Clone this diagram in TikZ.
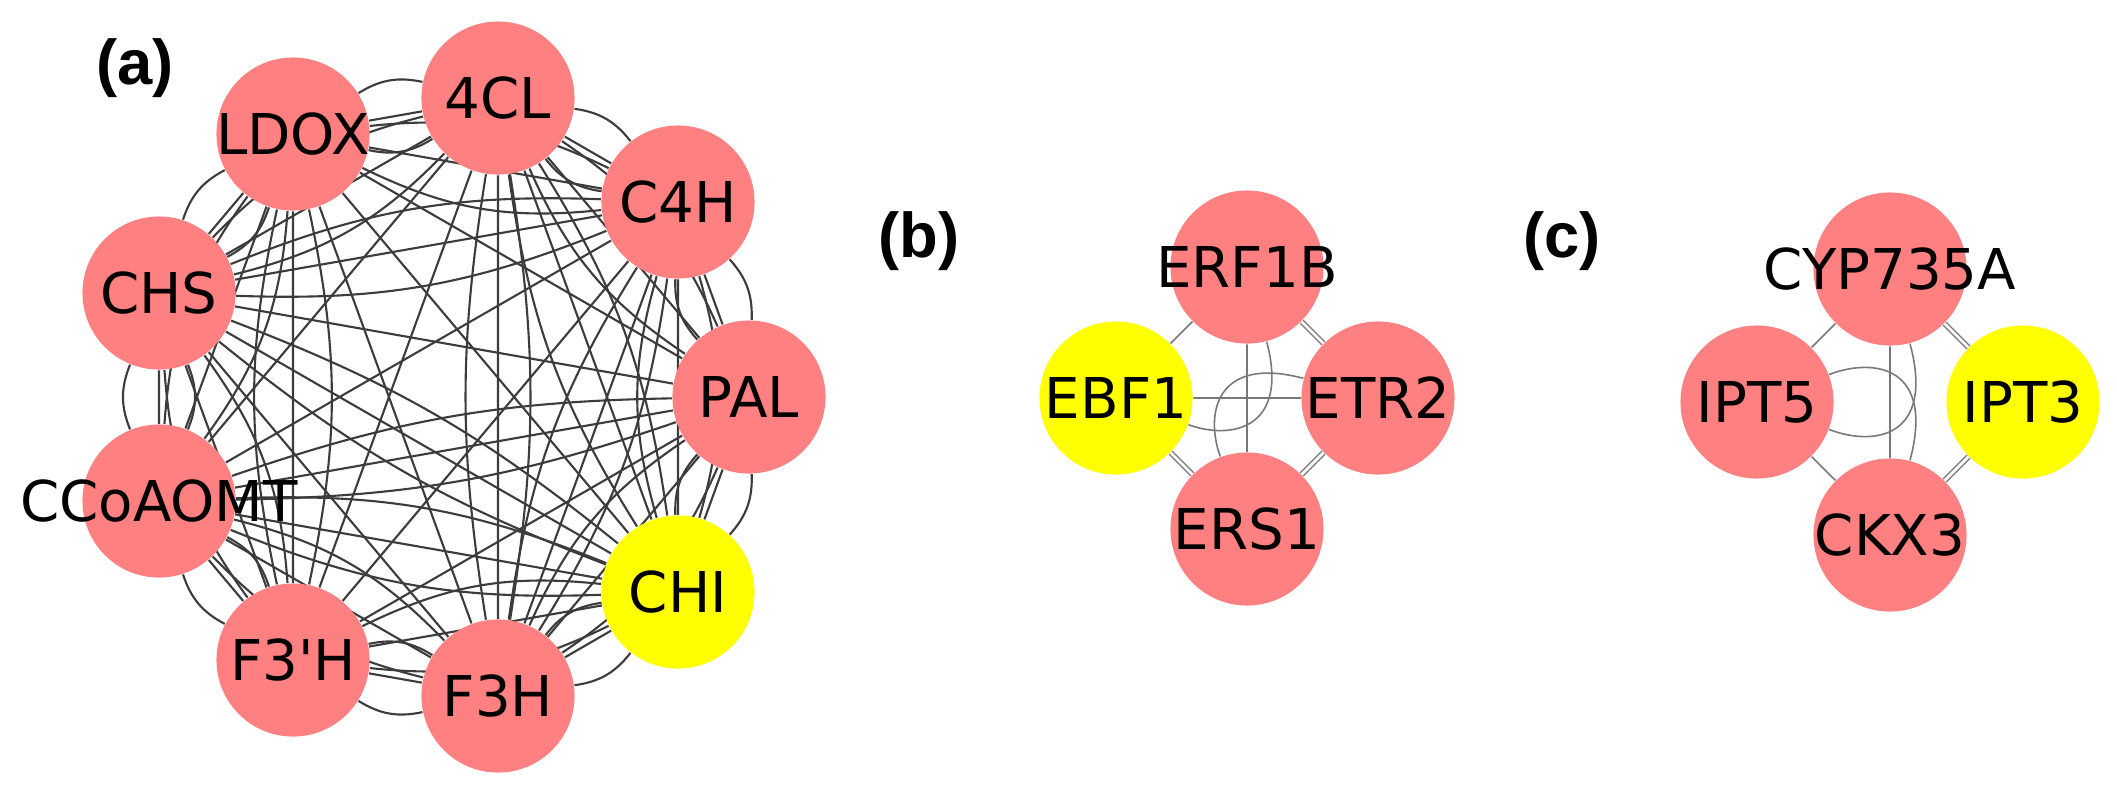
\documentclass[tikz,border=0pt]{standalone}
\usepackage{fontspec}
\newfontfamily\genefont{DejaVu Sans}
\newfontfamily\panelfont{Liberation Sans}
\usetikzlibrary{backgrounds}
\definecolor{genepink}{RGB}{255,128,128}
\definecolor{geneyellow}{RGB}{255,255,0}
\definecolor{linkgray}{RGB}{60,60,60}
\definecolor{linklight}{RGB}{120,120,120}
\tikzset{
  gene/.style={circle,fill=genepink,minimum size=1.53cm,inner sep=0pt,
    font=\genefont\fontsize{16}{19}\selectfont,
    execute at begin node={\hbox to 0pt\bgroup\hss},
    execute at end node={\hss\egroup}},
  hubgene/.style={gene,fill=geneyellow},
  link/.style={draw=linkgray,line width=0.6pt},
  pairlink/.style={draw=linklight,line width=0.45pt},
  duplink/.style={draw=linklight,line width=0.4pt,double=white,double distance=0.8pt},
  panel/.style={font=\panelfont\bfseries\fontsize{18}{20}\selectfont}
}
\begin{document}
\begin{tikzpicture}[x=0.01cm,y=-0.01cm]
\useasboundingbox (0,0) rectangle (2117,799);
% panel (a)
\node[panel] (lbla) at (135,68) {(a)};
\node[gene] (pal) at (749,397) {PAL};
\node[gene] (c4h) at (678,202) {C4H};
\node[gene] (fourcl) at (498,98) {4CL};
\node[gene] (ldox) at (293,134) {LDOX};
\node[gene] (chs) at (159,293) {CHS};
\node[gene] (ccoaomt) at (159,501) {CCoAOMT};
\node[gene] (ftph) at (293,660) {F3\textquotesingle H};
\node[gene] (fth) at (498,696) {F3H};
\node[hubgene] (chi) at (678,592) {CHI};
% panel (b)
\node[panel] (lblb) at (919,241) {(b)};
\node[gene] (erf1b) at (1247,267) {ERF1B};
\node[hubgene] (ebf1) at (1116,398) {EBF1};
\node[gene] (etr2) at (1378,398) {ETR2};
\node[gene] (ers1) at (1247,529) {ERS1};
% panel (c)
\node[panel] (lblc) at (1562,241) {(c)};
\node[gene] (cyp) at (1890,269) {CYP735A};
\node[gene] (ipt5) at (1757,402) {IPT5};
\node[hubgene] (ipt3) at (2023,402) {IPT3};
\node[gene] (ckx3) at (1890,535) {CKX3};

\begin{scope}[on background layer]
\fill[white] (0,0) rectangle (2117,799);
% straight links
\draw[link] (pal) -- (c4h) (pal) -- (fourcl) (pal) -- (ldox) (pal) -- (chs)
  (pal) -- (ccoaomt) (pal) -- (ftph) (pal) -- (fth) (pal) -- (chi);
\draw[link] (c4h) -- (fourcl) (c4h) -- (ldox) (c4h) -- (chs) (c4h) -- (ccoaomt)
  (c4h) -- (ftph) (c4h) -- (fth) (c4h) -- (chi);
\draw[link] (fourcl) -- (ldox) (fourcl) -- (chs) (fourcl) -- (ccoaomt)
  (fourcl) -- (ftph) (fourcl) -- (fth) (fourcl) -- (chi);
\draw[link] (ldox) -- (chs) (ldox) -- (ccoaomt) (ldox) -- (ftph) (ldox) -- (fth) (ldox) -- (chi);
\draw[link] (chs) -- (ccoaomt) (chs) -- (ftph) (chs) -- (fth) (chs) -- (chi);
\draw[link] (ccoaomt) -- (ftph) (ccoaomt) -- (fth) (ccoaomt) -- (chi);
\draw[link] (ftph) -- (fth) (ftph) -- (chi) (fth) -- (chi);
% repeated links, neighbours
\draw[link] (pal) to[bend left=22] (c4h) (pal) to[bend right=22] (c4h);
\draw[link] (c4h) to[bend left=22] (fourcl) (c4h) to[bend right=22] (fourcl);
\draw[link] (fourcl) to[bend left=22] (ldox) (fourcl) to[bend right=22] (ldox);
\draw[link] (ldox) to[bend left=22] (chs) (ldox) to[bend right=22] (chs);
\draw[link] (chs) to[bend left=22] (ccoaomt) (chs) to[bend right=22] (ccoaomt);
\draw[link] (ccoaomt) to[bend left=22] (ftph) (ccoaomt) to[bend right=22] (ftph);
\draw[link] (ftph) to[bend left=22] (fth) (ftph) to[bend right=22] (fth);
\draw[link] (fth) to[bend left=22] (chi) (fth) to[bend right=22] (chi);
\draw[link] (chi) to[bend left=22] (pal) (chi) to[bend right=22] (pal);
% repeated links, one node apart
\draw[link] (pal) to[bend left=16] (fourcl) (pal) to[bend right=16] (fourcl);
\draw[link] (c4h) to[bend left=16] (ldox) (c4h) to[bend right=16] (ldox);
\draw[link] (fourcl) to[bend left=16] (chs) (fourcl) to[bend right=16] (chs);
\draw[link] (ldox) to[bend left=16] (ccoaomt) (ldox) to[bend right=16] (ccoaomt);
\draw[link] (chs) to[bend left=16] (ftph) (chs) to[bend right=16] (ftph);
\draw[link] (ccoaomt) to[bend left=16] (fth) (ccoaomt) to[bend right=16] (fth);
\draw[link] (ftph) to[bend left=16] (chi) (ftph) to[bend right=16] (chi);
\draw[link] (fth) to[bend left=16] (pal) (fth) to[bend right=16] (pal);
\draw[link] (chi) to[bend left=16] (c4h) (chi) to[bend right=16] (c4h);
% repeated links across
\draw[link] (ldox) to[bend left=12] (ftph) (ldox) to[bend right=12] (ftph);
\draw[link] (c4h) to[bend left=12] (chs) (c4h) to[bend right=12] (chs);
\draw[link] (ccoaomt) to[bend left=12] (chi) (ccoaomt) to[bend right=12] (chi);
\draw[link] (fth) to[bend left=12] (c4h) (fth) to[bend right=12] (c4h);
\draw[link] (chi) to[bend left=12] (fourcl) (chi) to[bend right=12] (fourcl);
\draw[link] (fourcl) to[bend left=9] (fth) (fourcl) to[bend right=9] (fth);
\draw[link] (ccoaomt) to[bend left=9] (pal) (ccoaomt) to[bend right=9] (pal);
\draw[link] (chs) to[bend left=9] (chi) (chs) to[bend right=9] (chi);
% panel (b) links
\draw[pairlink] (ebf1) -- (erf1b) (erf1b) -- (ers1) (ebf1) -- (etr2);
\draw[duplink] (erf1b) -- (etr2) (etr2) -- (ers1) (ers1) -- (ebf1);
\draw[pairlink] (erf1b) .. controls (1290,430) and (1230,440) .. (ebf1);
\draw[pairlink] (etr2) .. controls (1215,355) and (1205,415) .. (ers1);
% panel (c) links
\draw[pairlink] (cyp) -- (ipt5) (ipt5) -- (ckx3) (cyp) -- (ckx3);
\draw[duplink] (cyp) -- (ipt3) (ipt3) -- (ckx3);
\draw[pairlink] (cyp) .. controls (1935,437) and (1875,447) .. (ipt5);
\draw[pairlink] (ckx3) .. controls (1935,367) and (1875,357) .. (ipt5);
\end{scope}
\end{tikzpicture}
\end{document}
